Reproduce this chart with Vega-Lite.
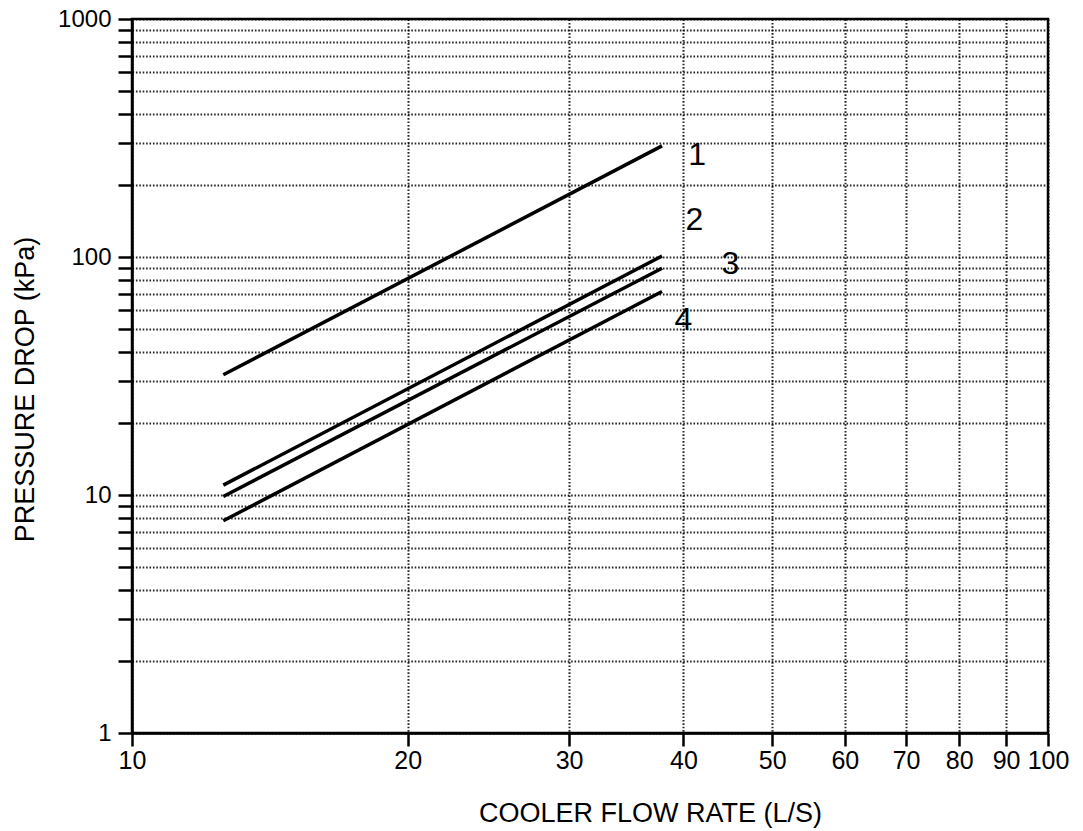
{
  "$schema": "https://vega.github.io/schema/vega-lite/v6.json",
  "autosize": {"type": "none"},
  "padding": {"left": 132, "top": 19, "right": 35, "bottom": 97},
  "width": 916,
  "height": 714,
  "background": "white",
  "config": {
    "font": "Liberation Sans",
    "view": {"stroke": "black", "strokeWidth": 2.5},
    "axis": {
      "domainColor": "black",
      "domainWidth": 2.5,
      "tickColor": "black",
      "tickWidth": 2.5,
      "gridColor": "black",
      "gridWidth": 2,
      "gridDash": [1.6, 1.8],
      "gridOpacity": 0.85,
      "labelColor": "black",
      "labelFont": "Liberation Sans",
      "labelFontSize": 24,
      "labelFlush": false,
      "titleColor": "black",
      "titleFont": "Liberation Sans",
      "titleFontSize": 27,
      "titleFontWeight": "normal",
      "labelOverlap": false
    }
  },
  "datasets": {
    "curves": [
      {"series": "1", "flow": 12.58, "drop": 32.0},
      {"series": "1", "flow": 37.9, "drop": 293},
      {"series": "2", "flow": 12.58, "drop": 11.0},
      {"series": "2", "flow": 37.9, "drop": 101},
      {"series": "3", "flow": 12.58, "drop": 9.86},
      {"series": "3", "flow": 37.9, "drop": 89.7},
      {"series": "4", "flow": 12.58, "drop": 7.79},
      {"series": "4", "flow": 37.9, "drop": 71.6}
    ],
    "labels": [
      {"label": "1", "flow": 41.4, "drop": 268},
      {"label": "2", "flow": 41.1, "drop": 143},
      {"label": "3", "flow": 45.0, "drop": 93.5},
      {"label": "4", "flow": 40.0, "drop": 54.4}
    ]
  },
  "layer": [
    {
      "data": {"name": "curves"},
      "mark": {"type": "line", "color": "black", "strokeWidth": 3.5},
      "encoding": {
        "x": {
          "field": "flow",
          "type": "quantitative",
          "scale": {"type": "log", "domain": [10, 100], "nice": false},
          "axis": {
            "values": [10, 20, 30, 40, 50, 60, 70, 80, 90, 100],
            "labelExpr": "format(datum.value, 'd')",
            "labelFontSize": 25,
            "tickSize": 13,
            "labelPadding": 2,
            "title": "COOLER FLOW RATE (L/S)",
            "titleX": 518,
            "titleY": 88,
            "titleBaseline": "alphabetic",
            "titleAnchor": "middle",
            "titleAlign": "center"
          }
        },
        "y": {
          "field": "drop",
          "type": "quantitative",
          "scale": {"type": "log", "domain": [1, 1000], "nice": false},
          "axis": {
            "values": [1, 2, 3, 4, 5, 6, 7, 8, 9, 10, 20, 30, 40, 50, 60, 70, 80, 90, 100, 200, 300, 400, 500, 600, 700, 800, 900, 1000],
            "labelExpr": "indexof([1, 10, 100, 1000], datum.value) >= 0 ? format(datum.value, 'd') : ''",
            "tickSize": 14,
            "labelPadding": 7,
            "title": "PRESSURE DROP (kPa)",
            "titleX": -99,
            "titleY": 370,
            "titleAngle": 270,
            "titleBaseline": "alphabetic",
            "titleAlign": "center"
          }
        },
        "detail": {"field": "series", "type": "nominal"}
      }
    },
    {
      "data": {"name": "labels"},
      "mark": {"type": "text", "fontSize": 32, "color": "black", "font": "Liberation Sans", "align": "center", "baseline": "middle"},
      "encoding": {
        "x": {"field": "flow", "type": "quantitative"},
        "y": {"field": "drop", "type": "quantitative"},
        "text": {"field": "label", "type": "nominal"}
      }
    }
  ]
}
